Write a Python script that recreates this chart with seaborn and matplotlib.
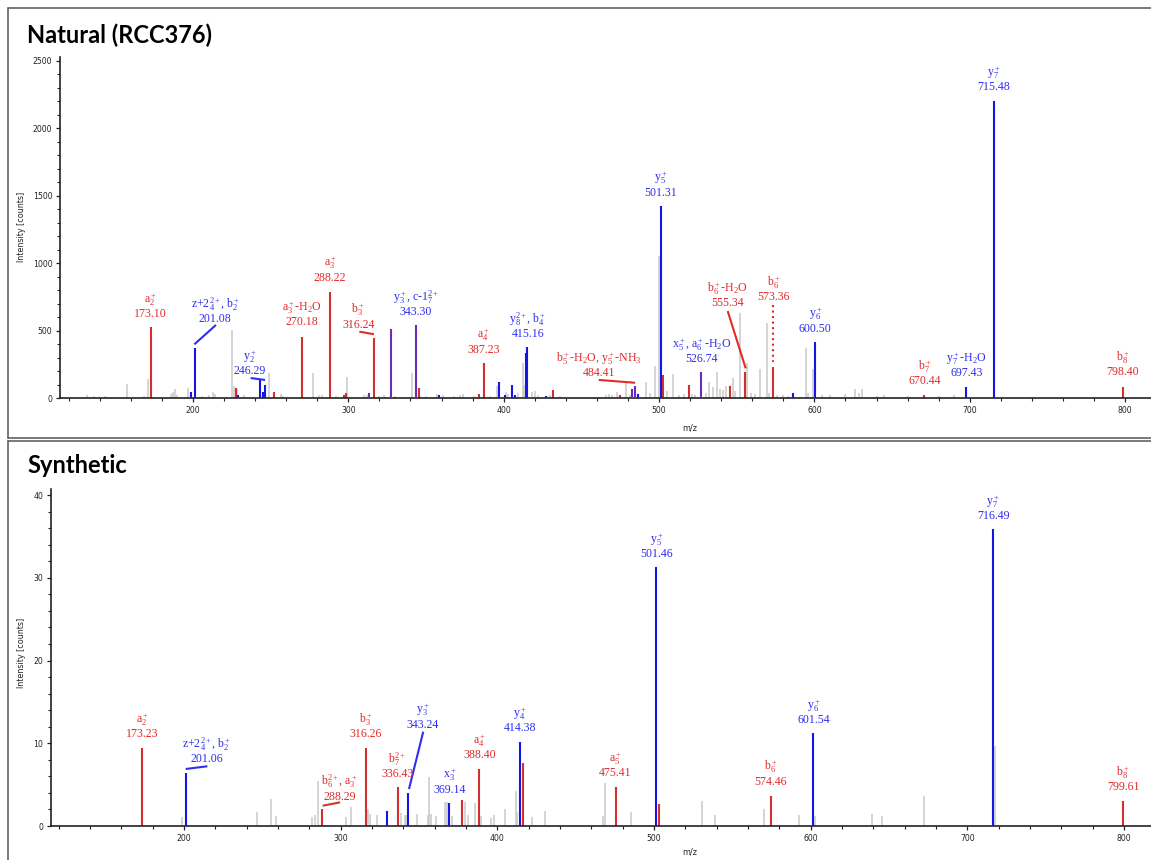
import numpy as np
import pandas as pd
import matplotlib
matplotlib.use("Agg")
import matplotlib.pyplot as plt
import seaborn as sns
from matplotlib.lines import Line2D
from matplotlib.ticker import MultipleLocator, FixedLocator

# Natural (RCC376) spectrum: matched a/b ions (red), x/y/z ions (blue),
# peaks matched by both series (purple) and unassigned peaks (grey)
nat_red_mz = [173.10, 227.7, 252.2, 270.18, 288.22, 297.5, 298.5, 316.24, 345.3,
              384.0, 387.23, 431.8, 475.0, 502.6, 519.0, 545.8, 555.34, 573.36,
              670.44, 798.40]
nat_red_int = [527, 74, 42, 455, 789, 25, 40, 445, 77,
               28, 260, 59, 22, 171, 96, 89, 193, 232,
               22, 84]

nat_blue_mz = [199.0, 201.08, 229.2, 243.1, 245.0, 246.29, 358.4, 397.0, 400.7,
               405.4, 407.0, 414.1, 415.16, 427.0, 486.5, 501.31, 586.0, 600.50,
               697.43, 715.48]
nat_blue_int = [45, 371, 22, 134, 47, 96, 25, 121, 20,
                96, 22, 337, 380, 15, 30, 1424, 40, 413,
                79, 2205]

nat_both_mz = [313.3, 327.5, 343.30, 482.5, 484.41, 526.74]
nat_both_int = [37, 512, 542, 70, 90, 193]

nat_grey_mz = [131.8, 136, 140, 143.4, 157.3, 168.5, 171.3, 186.0, 187.0, 188.7,
               190.0, 197.0, 206, 210, 213, 214, 225.3, 226.5, 228.5, 233,
               249.1, 256.5, 258, 277.4, 281, 283, 286, 292, 299.4, 310,
               312, 320, 323, 330, 341.2, 346, 350, 357, 361, 368,
               372, 374, 381, 391, 395.4, 401.5, 403, 409, 412.2, 413,
               418, 420, 422, 430, 436, 458, 462, 466, 468, 470,
               473, 478.6, 481, 491.4, 494, 497.5, 500.3, 505, 509.3, 513,
               516, 521, 523, 530, 532, 535, 537.6, 539, 541, 543,
               547.5, 549, 552.2, 556.5, 559, 562, 565, 569.4, 571, 576,
               580, 583, 591, 594.4, 596, 599.4, 605, 610, 620, 626.3,
               629, 630.5, 640, 645, 655, 660, 680, 690, 700, 720,
               740, 760, 780]
nat_grey_int = [20, 12, 8, 15, 104, 18, 141, 30, 47, 64,
                20, 74, 15, 20, 45, 30, 504, 89, 70, 20,
                188, 30, 15, 186, 20, 25, 10, 12, 158, 20,
                25, 15, 20, 15, 188, 15, 15, 30, 20, 15,
                25, 30, 15, 15, 89, 45, 30, 40, 257, 100,
                45, 50, 20, 20, 12, 8, 10, 20, 30, 25,
                45, 109, 20, 119, 40, 237, 1053, 50, 180, 20,
                30, 30, 20, 40, 120, 80, 193, 70, 60, 90,
                150, 50, 628, 260, 40, 30, 215, 554, 40, 20,
                20, 15, 10, 368, 40, 212, 25, 20, 30, 64,
                40, 67, 15, 25, 10, 18, 12, 20, 10, 8,
                6, 8, 6]

# Synthetic spectrum
syn_red_mz = [173.23, 288.29, 316.26, 336.43, 377.4, 388.40, 416.6, 475.41,
              503.4, 574.46, 799.61]
syn_red_int = [9.4, 2.05, 9.4, 4.76, 3.15, 6.85, 7.66, 4.76,
               2.6, 3.67, 3.0]

syn_blue_mz = [201.06, 329.4, 343.24, 369.14, 414.38, 501.46, 601.54, 716.49]
syn_blue_int = [6.45, 1.8, 3.95, 2.8, 10.2, 31.3, 11.2, 35.9]

syn_grey_mz = [198.5, 246.8, 255.5, 258.7, 281.5, 283.8, 285.3, 303.4, 306.8, 317.6,
               318.5, 323.4, 338.3, 341.0, 342.0, 348.5, 355.5, 356.3, 357.6, 360.8,
               366.6, 367.6, 371.2, 379.5, 381.5, 385.7, 389.5, 395.7, 397.6, 405.0,
               411.9, 412.5, 422.3, 430.2, 467.2, 468.9, 485.3, 530.4, 538.7, 570.3,
               592.6, 602.7, 639.3, 645.6, 672.4, 717.6]
syn_grey_int = [1.1, 1.65, 3.3, 1.2, 1.05, 1.37, 5.5, 1.1, 2.25, 2.0,
                1.4, 1.3, 1.6, 1.3, 1.3, 1.5, 1.3, 5.97, 1.5, 1.2,
                2.9, 2.9, 1.2, 2.9, 1.3, 2.8, 1.2, 1.0, 1.3, 2.0,
                4.2, 1.7, 1.1, 1.8, 1.2, 5.15, 1.7, 3.0, 1.3, 2.05,
                1.3, 1.2, 1.4, 1.15, 3.67, 9.7]

# peak annotations (text and ion series: "r" = a/b, "b" = x/y/z)
nat_labels = [
    ("a$_2^+$\n173.10", "r"),
    ("z+2$_4^{2+}$, b$_2^+$\n201.08", "b"),
    ("y$_2^+$\n246.29", "b"),
    ("a$_3^+$-H$_2$O\n270.18", "r"),
    ("a$_3^+$\n288.22", "r"),
    ("b$_3^+$\n316.24", "r"),
    ("y$_3^+$, c-1$_7^{2+}$\n343.30", "b"),
    ("a$_4^+$\n387.23", "r"),
    ("y$_8^{2+}$, b$_4^+$\n415.16", "b"),
    ("b$_5^+$-H$_2$O, y$_5^+$-NH$_3$\n484.41", "r"),
    ("y$_5^+$\n501.31", "b"),
    ("x$_5^+$, a$_6^+$-H$_2$O\n526.74", "b"),
    ("b$_6^+$-H$_2$O\n555.34", "r"),
    ("b$_6^+$\n573.36", "r"),
    ("y$_6^+$\n600.50", "b"),
    ("b$_7^+$\n670.44", "r"),
    ("y$_7^+$-H$_2$O\n697.43", "b"),
    ("y$_7^+$\n715.48", "b"),
    ("b$_8^+$\n798.40", "r"),
]
syn_labels = [
    ("a$_2^+$\n173.23", "r"),
    ("z+2$_4^{2+}$, b$_2^+$\n201.06", "b"),
    ("b$_6^{2+}$, a$_3^+$\n288.29", "r"),
    ("b$_3^+$\n316.26", "r"),
    ("b$_7^{2+}$\n336.43", "r"),
    ("y$_3^+$\n343.24", "b"),
    ("x$_3^+$\n369.14", "b"),
    ("a$_4^+$\n388.40", "r"),
    ("y$_4^+$\n414.38", "b"),
    ("a$_5^+$\n475.41", "r"),
    ("y$_5^+$\n501.46", "b"),
    ("b$_6^+$\n574.46", "r"),
    ("y$_6^+$\n601.54", "b"),
    ("y$_7^+$\n716.49", "b"),
    ("b$_8^+$\n799.61", "r"),
]

# layout: label centres and leader lines (data coordinates)
nat_label_pos = [(172.8, 684), (214.2, 653), (236.7, 263), (270.0, 627), (288.2, 955),
                 (306.4, 606), (343.6, 703), (386.9, 421), (415.5, 541), (461.2, 249),
                 (501.1, 1586), (527.5, 352), (544.2, 768), (573.6, 810), (600.6, 579),
                 (670.8, 188), (698.1, 247), (715.7, 2369), (798.5, 254)]
nat_leaders = [((200.9, 398), (214.8, 542), "b", "-"),
               ((237.1, 148), (246.4, 134), "b", "-"),
               ((307.1, 492), (316.5, 473), "r", "-"),
               ((461.2, 134), (484.6, 113), "r", "-"),
               ((544.2, 645), (555.8, 220), "r", "-"),
               ((573.6, 690), (573.6, 265), "r", ":")]
syn_label_pos = [(173.6, 12.15), (214.5, 9.15), (299.1, 4.65), (316.2, 12.15), (336.1, 7.37),
                 (352.4, 13.3), (369.3, 5.44), (388.5, 9.58), (414.5, 12.83), (475.3, 7.43),
                 (501.7, 33.9), (574.5, 6.37), (601.7, 13.8), (716.4, 38.5), (799.5, 5.76)]
syn_leaders = [((201.1, 6.89), (214.9, 7.22), "b", "-"),
               ((288.5, 2.45), (299.6, 2.86), "r", "-"),
               ((343.6, 4.47), (352.7, 11.4), "b", "-")]

PEAK_COLORS = {"grey": "#c9c9c9", "r": "#d42f2f", "b": "#1515e6", "both": "#6a2dbb"}
TEXT_COLORS = {"r": "#e02b2b", "b": "#2e2ef0"}

sns.set_theme(style="ticks")
plt.rcParams["font.family"] = ["DejaVu Sans"]
plt.rcParams["mathtext.fontset"] = "custom"
plt.rcParams["mathtext.rm"] = "Liberation Serif"
plt.rcParams["mathtext.it"] = "Liberation Serif:italic"
plt.rcParams["mathtext.bf"] = "Liberation Serif:bold"


def peaks_frame(mz, inten, kind):
    return pd.DataFrame({"mz": mz, "intensity": inten, "kind": kind})


def draw_spectrum(ax, spectra, labels, label_pos, leaders, xlim, ylim, ymajor, yminor):
    df = pd.concat([peaks_frame(*s) for s in spectra], ignore_index=True)
    for kind, lw, z in [("grey", 1.1, 1), ("r", 1.5, 2), ("b", 1.5, 3), ("both", 1.5, 3)]:
        sub = df[df["kind"] == kind]
        ax.vlines(sub["mz"], 0, sub["intensity"], colors=PEAK_COLORS[kind], lw=lw, zorder=z)

    for (txt, kind), (x, y) in zip(labels, label_pos):
        ax.text(x, y, txt, ha="center", va="center", color=TEXT_COLORS[kind],
                fontsize=8.6, family="Liberation Serif", linespacing=1.05, zorder=5)
    for p0, p1, kind, ls in leaders:
        ax.plot([p0[0], p1[0]], [p0[1], p1[1]], color=TEXT_COLORS[kind],
                lw=1.5, ls=ls, zorder=4, solid_capstyle="butt")

    ax.set_xlim(*xlim)
    ax.set_ylim(*ylim)
    ax.xaxis.set_major_locator(FixedLocator([200, 300, 400, 500, 600, 700, 800]))
    ax.xaxis.set_minor_locator(MultipleLocator(20))
    ax.yaxis.set_major_locator(MultipleLocator(ymajor))
    ax.yaxis.set_minor_locator(MultipleLocator(yminor))
    ax.tick_params(axis="both", which="major", direction="out", length=3, width=0.9,
                   labelsize=5.6, colors="#222222", pad=2.5)
    ax.tick_params(axis="both", which="minor", direction="out", length=2, width=0.8,
                   colors="#222222")
    ax.set_xlabel("")
    ax.set_ylabel("")
    ax.set_facecolor("none")
    sns.despine(ax=ax)
    for side in ["left", "bottom"]:
        ax.spines[side].set_linewidth(1.2)
        ax.spines[side].set_color("#222222")


fig = plt.figure(figsize=(11.51, 8.6), dpi=100)
W, H = 1151.0, 860.0

# panel frames
frame_kw = dict(transform=fig.transFigure, color="#555555", lw=1.1)
fig.add_artist(Line2D([8 / W, 1], [1 - 8 / H, 1 - 8 / H], **frame_kw))
fig.add_artist(Line2D([8 / W, 8 / W], [1 - 8 / H, 1 - 438 / H], **frame_kw))
fig.add_artist(Line2D([8 / W, 1], [1 - 438 / H, 1 - 438 / H], **frame_kw))
fig.add_artist(Line2D([8 / W, 1], [1 - 441 / H, 1 - 441 / H], **frame_kw))
fig.add_artist(Line2D([8 / W, 8 / W], [1 - 441 / H, 0], **frame_kw))

ax1 = fig.add_axes([60 / W, 1 - 398 / H, (W - 60) / W, (398 - 57.3) / H])
draw_spectrum(
    ax1,
    [(nat_grey_mz, nat_grey_int, "grey"), (nat_red_mz, nat_red_int, "r"),
     (nat_blue_mz, nat_blue_int, "b"), (nat_both_mz, nat_both_int, "both")],
    nat_labels, nat_label_pos, nat_leaders,
    (114.4, 816.7), (0, 2527), 500, 100,
)

ax2 = fig.add_axes([51 / W, 1 - 826 / H, (W - 51) / W, (826 - 489.3) / H])
draw_spectrum(
    ax2,
    [(syn_grey_mz, syn_grey_int, "grey"), (syn_red_mz, syn_red_int, "r"),
     (syn_blue_mz, syn_blue_int, "b")],
    syn_labels, syn_label_pos, syn_leaders,
    (115.1, 817.2), (0, 40.7), 10, 2,
)

title_kw = dict(family=["Lato", "DejaVu Sans"], fontweight="bold", fontsize=17,
                color="black", ha="left", va="baseline")
fig.text(27 / W, 1 - 42.7 / H, "Natural (RCC376)", **title_kw)
fig.text(27 / W, 1 - 473.3 / H, "Synthetic", **title_kw)

small_kw = dict(fontsize=5.8, color="#222222", ha="center", va="center")
fig.text(22 / W, 1 - 227 / H, "Intensity [counts]", rotation=90, **small_kw)
fig.text(22 / W, 1 - 653 / H, "Intensity [counts]", rotation=90, **small_kw)
fig.text(690 / W, 1 - 428 / H, "m/z", **small_kw)
fig.text(690 / W, 1 - 852 / H, "m/z", **small_kw)

fig.savefig("out.png", dpi=100, facecolor="white")
